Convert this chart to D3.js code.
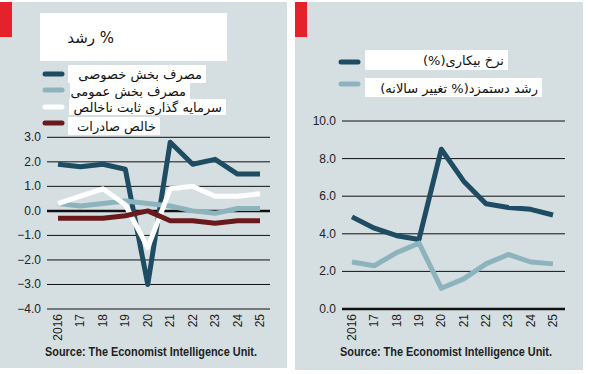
<!DOCTYPE html>
<html>
<head>
<meta charset="utf-8">
<script src="https://cdn.jsdelivr.net/npm/d3@7"></script>
<style>
  body { margin: 0; background: #fff; }
  svg text { font-family: "Liberation Sans", Arial, sans-serif; }
  svg text.fa { font-family: "DejaVu Sans", sans-serif; direction: rtl; unicode-bidi: embed; }
</style>
</head>
<body>
<svg width="590" height="374"></svg>
<script>
var years = ["2016", "17", "18", "19", "20", "21", "22", "23", "24", "25"]

// left chart: growth %
var privateCons = [1.9, 1.8, 1.9, 1.7, -3.0, 2.8, 1.9, 2.1, 1.5, 1.5]
var publicCons = [0.3, 0.2, 0.3, 0.4, 0.3, 0.2, 0.0, -0.1, 0.1, 0.1]
var fixedInvest = [0.3, 0.6, 0.9, 0.25, -1.5, 0.9, 1.0, 0.6, 0.6, 0.7]
var netExports = [-0.3, -0.3, -0.3, -0.2, 0.0, -0.4, -0.4, -0.5, -0.4, -0.4]
var leftTicks = [3, 2, 1, 0, -1, -2, -3, -4]

// right chart
var unemployment = [4.9, 4.3, 3.9, 3.7, 8.5, 6.8, 5.6, 5.4, 5.3, 5.0]
var wageGrowth = [2.5, 2.3, 3.0, 3.5, 1.1, 1.6, 2.4, 2.9, 2.5, 2.4]
var rightTicks = [10, 8, 6, 4, 2, 0]

var navy = '#1e4c62', teal = '#8db3bd', maroon = '#6a1a1c', bg = '#d5dfe2'

var svg = d3.select('svg')

function panel(opt) {
  var g = svg.append('g')
  g.append('rect').attr('x', opt.x0).attr('y', 2).attr('width', opt.w).attr('height', opt.h).attr('fill', bg)
  g.append('rect').attr('x', opt.x0).attr('y', 2).attr('width', 12).attr('height', 35).attr('fill', '#e3222b')

  var x = d3.scalePoint().domain(years).range(opt.xr)
  var y = d3.scaleLinear().domain(opt.dom).range(opt.yr)

  // grid
  g.selectAll('line.grid')
    .data(opt.ticks)
    .enter()
    .append('line')
    .attr('x1', opt.gx[0]).attr('x2', opt.gx[1])
    .attr('y1', function(d) { return y(d) })
    .attr('y2', function(d) { return y(d) })
    .attr('stroke', '#111')
    .attr('stroke-width', function(d) { return d === 0 ? 2.5 : 1 })

  g.selectAll('text.ytick')
    .data(opt.ticks)
    .enter()
    .append('text')
    .attr('x', opt.gx[0] - 6)
    .attr('y', function(d) { return y(d) + 4 })
    .attr('text-anchor', 'end')
    .attr('font-size', 12)
    .attr('fill', '#222')
    .text(function(d) { return d3.format('.1f')(d) })

  g.selectAll('text.xtick')
    .data(years)
    .enter()
    .append('text')
    .attr('transform', function(d) { return 'translate(' + (x(d) + 4) + ',' + opt.xlabY + ') rotate(-90)' })
    .attr('text-anchor', 'end')
    .attr('font-size', 12)
    .attr('fill', '#222')
    .text(function(d) { return d })

  var line = d3.line()
    .x(function(d, i) { return x(years[i]) })
    .y(function(d) { return y(d) })

  opt.series.forEach(function(s) {
    g.append('path')
      .datum(s.values)
      .attr('d', line)
      .attr('fill', 'none')
      .attr('stroke', s.color)
      .attr('stroke-width', 5)
      .attr('stroke-linejoin', 'round')
  })

  // legend
  opt.series.forEach(function(s) {
    g.append('line')
      .attr('x1', s.sw[0]).attr('x2', s.sw[0] + 17)
      .attr('y1', s.sw[1]).attr('y2', s.sw[1])
      .attr('stroke', s.color).attr('stroke-width', 5).attr('stroke-linecap', 'round')
    g.append('rect')
      .attr('x', s.box[0]).attr('y', s.box[1]).attr('width', s.box[2]).attr('height', s.box[3])
      .attr('fill', '#fff')
    g.append('text')
      .attr('class', 'fa')
      .attr('x', s.box[0] + s.box[2] - 4)
      .attr('y', s.box[1] + s.box[3] / 2 + 5)
      .attr('text-anchor', 'start')
      .attr('font-size', 13)
      .attr('fill', '#111')
      .text(s.name)
  })

  g.append('text')
    .attr('x', opt.gx[0] - 2)
    .attr('y', 356)
    .attr('font-size', 12)
    .attr('font-weight', 'bold')
    .attr('textLength', 212)
    .attr('lengthAdjust', 'spacingAndGlyphs')
    .attr('fill', '#222')
    .text('Source: The Economist Intelligence Unit.')
  return g
}

var left = panel({
  x0: 0, w: 287, h: 366,
  xr: [58, 260], dom: [-4, 3], yr: [309, 137.3],
  gx: [47, 270], ticks: leftTicks, xlabY: 314,
  series: [
    { name: 'مصرف بخش خصوصی', values: privateCons, color: navy, sw: [45, 74], box: [68, 65, 138, 18] },
    { name: 'مصرف بخش عمومی', values: publicCons, color: teal, sw: [45, 90], box: [70, 82, 120, 17] },
    { name: 'سرمایه گذاری ثابت ناخالص', values: fixedInvest, color: '#fff', sw: [45, 107], box: [69, 99, 157, 16] },
    { name: 'خالص صادرات', values: netExports, color: maroon, sw: [45, 123], box: [68, 117, 92, 18] }
  ]
})

// title box
left.append('rect').attr('x', 40).attr('y', 13).attr('width', 187).attr('height', 48).attr('fill', '#fff')
left.append('text').attr('class', 'fa').attr('x', 114).attr('y', 43)
  .attr('text-anchor', 'start').attr('font-size', 15).attr('fill', '#111').text('% رشد')

var right = panel({
  x0: 295, w: 288, h: 368,
  xr: [352, 553], dom: [0, 10], yr: [309, 121],
  gx: [342, 565], ticks: rightTicks, xlabY: 314,
  series: [
    { name: 'نرخ بیکاری(%)', values: unemployment, color: navy, sw: [341, 62], box: [365, 50, 143, 20] },
    { name: 'رشد دستمزد(% تغییر سالانه)', values: wageGrowth, color: teal, sw: [341, 84], box: [365, 78, 177, 19] }
  ]
})
</script>
</body>
</html>
